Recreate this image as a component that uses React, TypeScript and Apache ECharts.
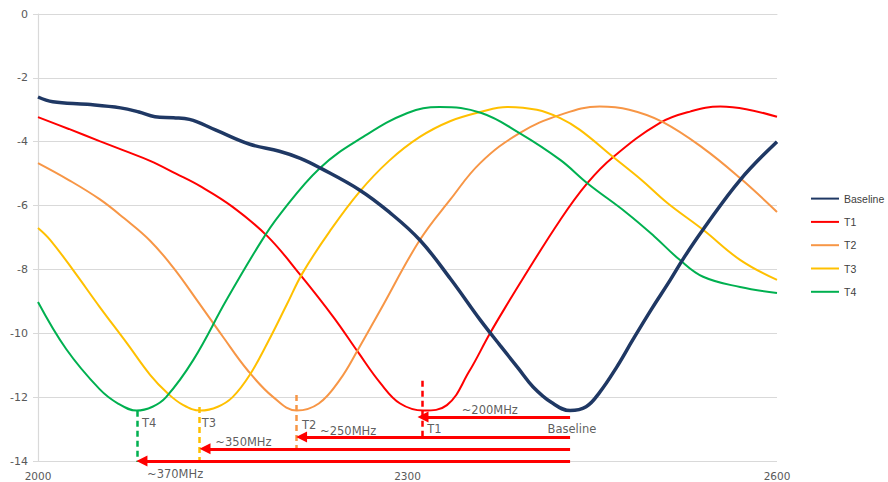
import React, { useEffect, useRef } from "react";
import * as echarts from "echarts";

const seriesNames = ["Baseline", "T1", "T2", "T3", "T4"];
const seriesColors = ["#1F3864", "#FF0000", "#F79646", "#FFC000", "#00B050"];

const baseline = [
  [2000, -2.6], [2012, -2.75], [2040, -2.83], [2067, -2.94], [2082, -3.07], [2095, -3.22],
  [2110, -3.25], [2123, -3.3], [2144, -3.63], [2172, -4.08], [2196, -4.3], [2213, -4.52],
  [2229, -4.82], [2261, -5.51], [2285, -6.2], [2310, -7.08], [2335, -8.3], [2359, -9.58],
  [2375, -10.37], [2390, -11.1], [2402, -11.68], [2417, -12.17], [2432, -12.42], [2445, -12.3],
  [2456, -11.85], [2470, -11.05], [2483, -10.2], [2498, -9.25], [2513, -8.35], [2525, -7.6],
  [2540, -6.75], [2570, -5.2], [2600, -4.0],
];
const t1 = [
  [2000, -3.23], [2025, -3.6], [2050, -3.98], [2070, -4.28], [2091, -4.6], [2112, -5.0],
  [2132, -5.4], [2158, -6.04], [2186, -6.95], [2213, -8.17], [2240, -9.5], [2260, -10.6],
  [2278, -11.56], [2294, -12.2], [2313, -12.42], [2332, -12.25], [2350, -11.2], [2367, -10.0],
  [2383, -8.96], [2393, -8.33], [2424, -6.45], [2446, -5.3], [2467, -4.48], [2505, -3.41],
  [2530, -3.05], [2554, -2.9], [2575, -2.98], [2600, -3.22],
];
const t2 = [
  [2000, -4.67], [2025, -5.2], [2050, -5.8], [2070, -6.4], [2091, -7.1], [2110, -7.95],
  [2129, -8.96], [2150, -10.1], [2170, -11.15], [2191, -12.0], [2210, -12.42], [2228, -12.2],
  [2245, -11.46], [2260, -10.5], [2278, -9.27], [2310, -7.08], [2335, -5.8], [2359, -4.67],
  [2391, -3.73], [2424, -3.16], [2456, -2.9], [2480, -3.0], [2507, -3.38], [2540, -4.2],
  [2570, -5.14], [2600, -6.2],
];
const t3 = [
  [2000, -6.7], [2010, -7.08], [2030, -8.1], [2050, -9.17], [2072, -10.3], [2091, -11.3],
  [2105, -11.87], [2118, -12.25], [2132, -12.42], [2146, -12.3], [2158, -12.0], [2172, -11.3],
  [2187, -10.25], [2202, -9.1], [2215, -8.1], [2237, -6.8], [2261, -5.57], [2285, -4.6],
  [2310, -3.85], [2335, -3.35], [2359, -3.07], [2381, -2.91], [2405, -3.0], [2424, -3.26],
  [2440, -3.63], [2467, -4.48], [2490, -5.2], [2511, -5.92], [2540, -6.76], [2570, -7.7],
  [2600, -8.33],
];
const t4 = [
  [2000, -9.02], [2023, -10.5], [2050, -11.75], [2065, -12.2], [2080, -12.42], [2093, -12.3],
  [2104, -12.0], [2126, -10.84], [2153, -8.96], [2180, -7.2], [2196, -6.3], [2229, -4.82],
  [2264, -3.85], [2300, -3.1], [2326, -2.91], [2360, -3.1], [2391, -3.73], [2424, -4.57],
  [2446, -5.3], [2478, -6.23], [2500, -6.95], [2521, -7.7], [2540, -8.23], [2570, -8.55],
  [2600, -8.74],
];
const seriesData = [baseline, t1, t2, t3, t4];

const xTicks = [2000, 2300, 2600];
const yTicks = [0, -2, -4, -6, -8, -10, -12, -14];

// arrows: [startFreq, endFreq, level]
const arrows = [
  [2432, 2312.6, -12.62],
  [2432, 2214, -13.25],
  [2432, 2135.6, -13.62],
  [2432, 2084.4, -14.0],
];
// dashed markers: [freq, top, bottom, colorIndex]
const markers = [
  [2311.8, -11.49, -13.25, 1],
  [2209.5, -11.93, -13.62, 2],
  [2130.7, -12.31, -14.03, 3],
  [2080.4, -12.43, -14.03, 4],
];
// text notes: [freq, level, text, align]
const notes: [number, number, string, string][] = [
  [2344, -12.4, "~200MHz", "left"],
  [2229, -13.06, "~250MHz", "left"],
  [2144, -13.4, "~350MHz", "left"],
  [2088.5, -14.42, "~370MHz", "left"],
  [2433.5, -13.0, "Baseline", "center"],
  [2316, -13.0, "T1", "left"],
  [2214.4, -12.87, "T2", "left"],
  [2133, -12.82, "T3", "left"],
  [2084.4, -12.81, "T4", "left"],
];

export default function App() {
  const ref = useRef<HTMLDivElement>(null);
  useEffect(() => {
    const chart = echarts.init(ref.current!, null, { renderer: "svg" });
    const font = "DejaVu Sans";
    const lineSeries = seriesNames.map((name, i) => ({
      name,
      type: "line",
      data: seriesData[i],
      smooth: 0.4,
      symbol: "none",
      showSymbol: false,
      color: seriesColors[i],
      lineStyle: { width: i === 0 ? 3.5 : 2, color: seriesColors[i] },
      z: i === 0 ? 3 : 2,
    }));
    chart.setOption({
      animation: false,
      grid: { left: 38, right: 111, top: 14, bottom: 21, containLabel: false },
      legend: {
        data: seriesNames,
        orient: "vertical",
        left: 810,
        top: 193,
        padding: 0,
        itemWidth: 28,
        itemHeight: 14,
        itemGap: 12.1,
        itemStyle: { opacity: 0 },
        textStyle: { fontFamily: "Liberation Sans", fontSize: 10.5, color: "#404040" },
      },
      xAxis: {
        type: "value",
        min: xTicks[0],
        max: xTicks[xTicks.length - 1],
        interval: xTicks[1] - xTicks[0],
        splitLine: { show: false },
        axisTick: { show: false },
        axisLine: { show: true, lineStyle: { color: "#D9D9D9", width: 1 } },
        axisLabel: {
          fontFamily: font,
          fontSize: 10.5,
          color: "#595959",
          margin: 9,
          formatter: (v: number) => String(v),
        },
      },
      yAxis: {
        type: "value",
        min: yTicks[yTicks.length - 1],
        max: yTicks[0],
        interval: 2,
        splitLine: { show: true, lineStyle: { color: "#D9D9D9", width: 1.2 } },
        axisTick: { show: true, length: 5, lineStyle: { color: "#D9D9D9" } },
        axisLine: { show: true, lineStyle: { color: "#D9D9D9", width: 1.2 } },
        axisLabel: { fontFamily: font, fontSize: 11, color: "#595959", margin: 10 },
      },
      series: [
        ...lineSeries,
        {
          name: "arrows",
          type: "lines",
          coordinateSystem: "cartesian2d",
          clip: false,
          symbol: ["none", "triangle"],
          symbolSize: [0, 11],
          lineStyle: { color: "#FF0000", width: 3, opacity: 1 },
          data: arrows.map((a) => ({ coords: [[a[0], a[2]], [a[1], a[2]]] })),
          z: 5,
        },
        {
          name: "markers",
          type: "lines",
          coordinateSystem: "cartesian2d",
          clip: false,
          symbol: ["none", "none"],
          data: markers.map((m) => ({
            coords: [[m[0], m[1]], [m[0], m[2]]],
            lineStyle: { color: seriesColors[m[3]], width: 2.5, type: [6, 4], opacity: 1 },
          })),
          z: 4,
        },
        {
          name: "notes",
          type: "scatter",
          clip: false,
          symbolSize: 0,
          silent: true,
          data: notes.map((n) => ({
            value: [n[0], n[1]],
            label: {
              show: true,
              position: "inside",
              formatter: n[2],
              align: n[3],
              verticalAlign: "middle",
              fontFamily: font,
              fontSize: 11.5,
              color: "#333333",
            },
          })),
          z: 6,
        },
      ],
    });
    return () => chart.dispose();
  }, []);
  return (
    <div
      ref={ref}
      style={{ position: "fixed", left: 0, top: 0, width: 888, height: 482, background: "#fff" }}
    />
  );
}
